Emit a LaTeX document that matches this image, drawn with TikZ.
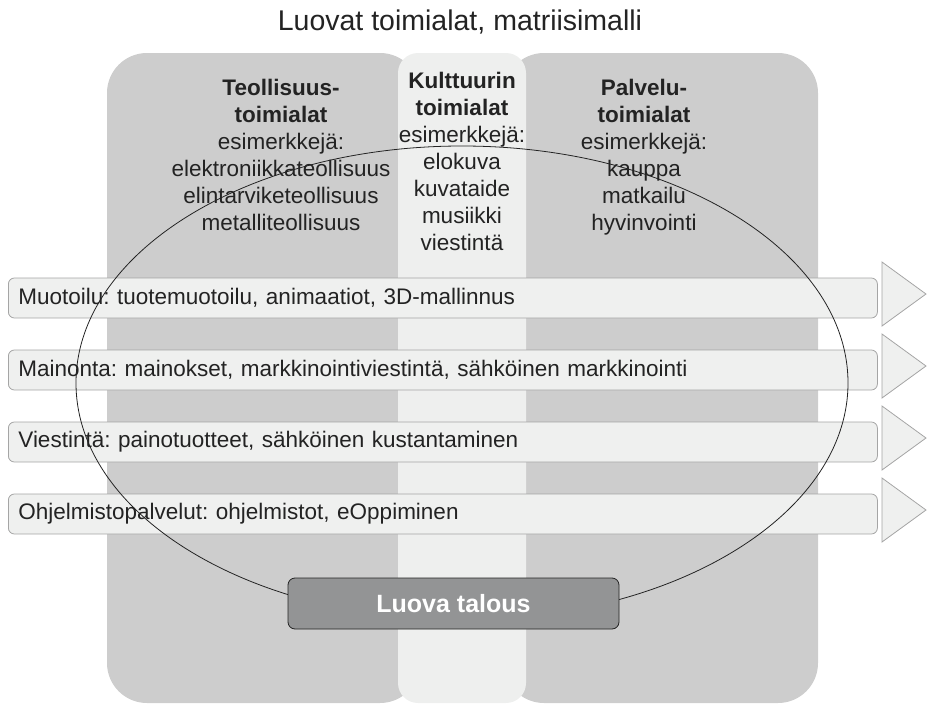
\documentclass[tikz,border=0pt]{standalone}
\usepackage{fontspec}
\setmainfont{Liberation Sans}
\usepackage{tikz}
\usepackage{xcolor}
\frenchspacing

\definecolor{panelgray}{RGB}{205,205,205}
\definecolor{colgray}{RGB}{238,239,238}
\definecolor{barfill}{RGB}{239,240,239}
\definecolor{barline}{RGB}{165,165,165}
\definecolor{boxfill}{RGB}{147,148,149}
\definecolor{inkgray}{RGB}{35,35,35}

\begin{document}
\begin{tikzpicture}[x=1pt, y=-1pt,
  every node/.style={text=inkgray},
  colhead/.style={align=center, anchor=north, inner sep=0pt, font=\fontsize{22.5}{27}\selectfont},
  barbox/.style={draw=barline, fill=barfill, line width=0.8pt, rounded corners=6pt, anchor=west,
    text width=849pt, inner xsep=10pt, minimum height=40pt, align=left, font=\fontsize{22.5}{27}\selectfont},
  arrowtri/.style={draw=barline, fill=barfill, line width=0.8pt}]
  \useasboundingbox (0,0) rectangle (927,704);
  % taustapaneelit
  \fill[panelgray, rounded corners=40pt] (107,53) rectangle (420,703);
  \fill[panelgray, rounded corners=40pt] (504,53) rectangle (818,703);
  \fill[colgray, rounded corners=20pt] (398,53) rectangle (526,703);
  \node[font=\fontsize{28.5}{34}\selectfont] (title) at (460,22) {Luovat toimialat, matriisimalli};
  % sarakkeet
  \node[colhead] (teol) at (281,79) {\textbf{Teollisuus-}\\\textbf{toimialat}\\esimerkkejä:\\elektroniikkateollisuus\\elintarviketeollisuus\\metalliteollisuus};
  \node[colhead] (kult) at (462,72) {\textbf{Kulttuurin}\\\textbf{toimialat}\\esimerkkejä:\\elokuva\\kuvataide\\musiikki\\viestintä};
  \node[colhead] (palv) at (644,79) {\textbf{Palvelu-}\\\textbf{toimialat}\\esimerkkejä:\\kauppa\\matkailu\\hyvinvointi};
  % rivit ja nuolet
  \foreach \i/\y/\txt in {1/298/{Muotoilu: tuotemuotoilu, animaatiot, 3D-mallinnus},
      2/370/{Mainonta: mainokset, markkinointiviestintä, sähköinen markkinointi},
      3/442/{Viestintä: painotuotteet, sähköinen kustantaminen},
      4/514/{Ohjelmistopalvelut: ohjelmistot, eOppiminen}} {
    \node[barbox] (bar\i) at (8,\y) {\txt};
    \filldraw[arrowtri] (882,\y-36) -- (926,\y-4) -- (882,\y+28) -- cycle;
  }
  \draw[inkgray, line width=0.8pt] (462,383) ellipse [x radius=386pt, y radius=237pt];
  \node[draw=inkgray, fill=boxfill, line width=0.8pt, rounded corners=7pt, minimum width=331pt, minimum height=51pt,
    text=white, font=\fontsize{25}{30}\selectfont\bfseries] (talous) at (453.5,603.5) {Luova talous};
\end{tikzpicture}
\end{document}
